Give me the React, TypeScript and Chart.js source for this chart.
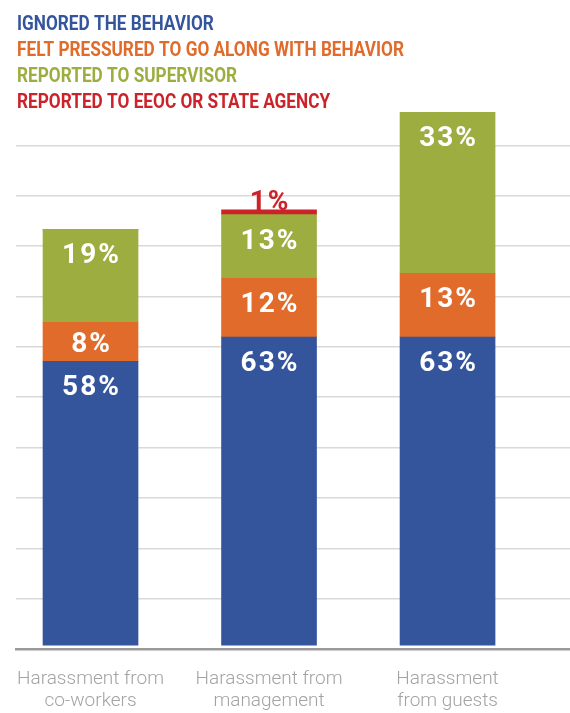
import React, { useEffect, useRef } from 'react';
import { Chart, registerables } from 'chart.js';

Chart.register(...registerables);

const categories: string[][] = [
  ['Harassment from', 'co-workers'],
  ['Harassment from', 'management'],
  ['Harassment', 'from guests'],
];
const categoryPositions = [0, 1, 2];
const seriesNames = [
  'IGNORED THE BEHAVIOR',
  'FELT PRESSURED TO GO ALONG WITH BEHAVIOR',
  'REPORTED TO SUPERVISOR',
  'REPORTED TO EEOC OR STATE AGENCY',
];
const ignoredValues = [58, 63, 63];
const pressuredValues = [8, 12, 13];
const supervisorValues = [19, 13, 33];
const eeocValues = [0, 1, 0];
const seriesColors = ['#34559c', '#e06b2a', '#9dad40', '#cc2229'];
const yGridTicks = [9.5, 19.8, 30.1, 40.4, 50.7, 61.0, 71.3, 81.6, 91.9, 102.2];

const seriesValues = [ignoredValues, pressuredValues, supervisorValues, eeocValues];

const textLegendPlugin = {
  id: 'textLegend',
  afterDraw(chart: any) {
    const ctx = chart.ctx;
    ctx.save();
    ctx.font = '700 21px Roboto';
    ctx.textBaseline = 'alphabetic';
    ctx.textAlign = 'left';
    chart.data.datasets.forEach((ds: any, i: number) => {
      ctx.save();
      ctx.translate(17, 29.5 + 26 * i);
      ctx.scale(0.82, 1);
      ctx.fillStyle = ds.backgroundColor;
      ctx.fillText(ds.label, 0, 0);
      ctx.restore();
    });
    ctx.restore();
  },
};

const valueLabelPlugin = {
  id: 'valueLabels',
  afterDatasetsDraw(chart: any) {
    const ctx = chart.ctx;
    ctx.save();
    ctx.font = '700 28px Roboto';
    ctx.textAlign = 'center';
    ctx.textBaseline = 'alphabetic';
    try { (ctx as any).letterSpacing = '2px'; } catch (e) {}
    chart.data.datasets.forEach((ds: any, di: number) => {
      const meta = chart.getDatasetMeta(di);
      meta.data.forEach((el: any, i: number) => {
        const v = seriesValues[di][i];
        if (!v) return;
        const top = Math.min(el.y, el.base);
        const bottom = Math.max(el.y, el.base);
        const h = bottom - top;
        const text = v + '%';
        if (di === 3) {
          ctx.fillStyle = seriesColors[3];
          ctx.fillText(text, el.x + 1, top);
        } else {
          ctx.fillStyle = '#ffffff';
          const y = Math.min(top + 34, top + h / 2 + 10);
          ctx.fillText(text, el.x + 1, y);
        }
      });
    });
    ctx.restore();
  },
};

export default function App() {
  const canvasRef = useRef<HTMLCanvasElement | null>(null);

  useEffect(() => {
    if (!canvasRef.current) return;
    const chart = new Chart(canvasRef.current, {
      type: 'bar',
      data: {
        datasets: seriesNames.map((name, si) => ({
          label: name,
          data: seriesValues[si].map((v, i) => ({ x: categoryPositions[i], y: v })),
          backgroundColor: seriesColors[si],
          borderWidth: 0,
          barThickness: 95,
        })),
      },
      options: {
        animation: false,
        responsive: true,
        maintainAspectRatio: false,
        layout: { padding: { top: 112, left: 16, right: 0, bottom: 0 } },
        plugins: {
          legend: { display: false },
          tooltip: { enabled: false },
        },
        scales: {
          x: {
            type: 'linear',
            stacked: true,
            offset: false,
            min: -0.4174,
            max: 2.686,
            grid: { display: false, drawTicks: false },
            border: { display: true, color: '#999999', width: 2.5 },
            afterBuildTicks(scale: any) {
              scale.ticks = categoryPositions.map((v) => ({ value: v }));
            },
            afterFit(scale: any) {
              scale.height = 64;
              scale.paddingLeft = 0;
              scale.paddingRight = 0;
            },
            ticks: {
              padding: 20,
              color: '#a3a3a3',
              font: { family: 'Roboto', size: 19, weight: '300', lineHeight: 1.13 },
              maxRotation: 0,
              autoSkip: false,
              callback: (value: any) => categories[Math.round(Number(value))] as any,
            },
          },
          y: {
            type: 'linear',
            stacked: true,
            min: -0.8,
            max: 109,
            grid: { display: true, color: '#d9d9d9', lineWidth: 1.5, drawTicks: false },
            border: { display: false },
            ticks: { display: false },
            afterBuildTicks(scale: any) {
              scale.ticks = yGridTicks.map((v) => ({ value: v }));
            },
            afterFit(scale: any) {
              scale.width = 0;
              scale.paddingTop = 0;
              scale.paddingBottom = 0;
            },
          },
        },
      } as any,
      plugins: [textLegendPlugin, valueLabelPlugin],
    });
    return () => chart.destroy();
  }, []);

  return (
    <div style={{ position: 'absolute', left: 0, top: 0, width: 570, height: 713 }}>
      <canvas ref={canvasRef} />
    </div>
  );
}
